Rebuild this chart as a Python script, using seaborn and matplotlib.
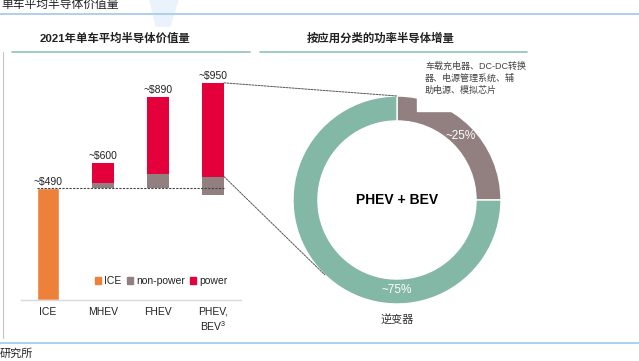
"""
Semiconductor content per vehicle (waterfall) + power semiconductor split (donut)
"""
import numpy as np
import pandas as pd
import matplotlib.pyplot as plt
import seaborn as sns
from matplotlib.patches import Patch, Rectangle, ConnectionPatch, Polygon

# bar data ($ per vehicle, 2021)
categories = ['ICE', 'MHEV', 'FHEV', 'PHEV,\nBEV$^3$']
ice_value = [490, 0, 0, 0]
nonpower_bottom = [0, 490, 490, 460]
nonpower_value = [0, 20, 60, 80]
power_value = [0, 90, 340, 410]
total_labels = ['~$490', '~$600', '~$890', '~$950']

# donut data (PHEV + BEV power semiconductor increment)
donut_labels = ['其他', '逆变器']
donut_share = [25, 75]
donut_pct = ['~25%', '~75%']

ORANGE = '#EE8139'
GREY = '#927F80'
RED = '#E4003A'
GREEN = '#84B8A6'
TXT = '#222222'

sns.set_theme(style='white')
plt.rcParams['font.family'] = ['Liberation Sans', 'Noto Sans CJK SC']
plt.rcParams['mathtext.fontset'] = 'custom'
plt.rcParams['mathtext.rm'] = 'Liberation Sans'
plt.rcParams['mathtext.default'] = 'regular'

W, H = 639, 361
fig = plt.figure(figsize=(W / 100, H / 100), dpi=100)


def px_axes(x0, y0, x1, y1):
    # axes placed by pixel box (top-left origin)
    return fig.add_axes([x0 / W, 1 - y1 / H, (x1 - x0) / W, (y1 - y0) / H])


# ---- waterfall bars ----
ax = px_axes(20.5, 60, 240.5, 300)
df = pd.DataFrame({'cat': categories, 'ice': ice_value})
sns.barplot(data=df, x='cat', y='ice', color=ORANGE, saturation=1,
            width=0.4, ax=ax)
pos = np.arange(len(categories))
ax.bar(pos, nonpower_value, bottom=nonpower_bottom, width=0.4,
       color=GREY, linewidth=0)
np_top = np.add(nonpower_bottom, nonpower_value)
ax.bar(pos, power_value, bottom=np_top, width=0.4, color=RED, linewidth=0)
totals = np.maximum(ice_value, np_top + np.array(power_value))

for p, t, lbl in zip(pos, totals, total_labels):
    ax.annotate(lbl, (p, t), xytext=(0, 1), textcoords='offset points',
                ha='center', va='bottom', fontsize=7.5, color=TXT)

ax.plot([pos[0] - 0.2, pos[-1] + 0.2], [ice_value[0], ice_value[0]],
        ls=(0, (2, 1.2)), color='#444444', lw=0.8, zorder=5)

ax.set_xlim(-0.5, 3.5)
ax.set_ylim(0, 1050)
ax.set_xlabel('')
ax.set_ylabel('')
ax.set_yticks([])
for s in ['top', 'left', 'right']:
    ax.spines[s].set_visible(False)
ax.spines['bottom'].set_color('#D9D9D9')
ax.spines['bottom'].set_linewidth(1)
ax.tick_params(axis='x', length=0, pad=5, labelsize=7.5, colors=TXT)
ax.patch.set_alpha(0)

handles = [Patch(color=ORANGE, label='ICE'),
           Patch(color=GREY, label='non-power'),
           Patch(color=RED, label='power')]
ax.legend(handles=handles, loc='center', bbox_to_anchor=(0.64, 0.079),
          ncol=3, frameon=False, fontsize=7.5, handlelength=0.6,
          handleheight=0.6, handletextpad=0.3, columnspacing=0.5,
          borderpad=0, labelcolor=TXT)

# ---- donut ----
dax = px_axes(293, 96, 501, 304)
dax.pie(donut_share, colors=[GREY, GREEN], startangle=90, counterclock=False,
        radius=1, wedgeprops=dict(width=0.24, edgecolor='white', linewidth=1))
dax.set_xlim(-1, 1)
dax.set_ylim(-1, 1)
dax.set_aspect('equal')

for ang, lbl in zip([45, -90], donut_pct):
    a = np.deg2rad(ang)
    dax.text(0.87 * np.cos(a), 0.87 * np.sin(a), lbl, ha='center',
             va='center', fontsize=8.5, color='white')
dax.text(0, 0, 'PHEV + BEV', ha='center', va='center', fontsize=10,
         fontweight='bold', color='black')
dax.text(0, -1.15, donut_labels[1], ha='center', va='center', fontsize=8,
         color='#333333')

# dashed connectors from PHEV bar to donut
a2 = np.deg2rad(226)
for xyA, xyB in [((3.2, totals[-1]), (0, 1)),
                 ((3.2, np_top[-1]), (np.cos(a2), np.sin(a2)))]:
    con = ConnectionPatch(xyA=xyA, coordsA=ax.transData, xyB=xyB,
                          coordsB=dax.transData, ls=(0, (2, 1.2)),
                          color='#555555', lw=0.7)
    fig.add_artist(con)

# ---- page decorations ----
oax = fig.add_axes([0, 0, 1, 1])
oax.set_xlim(0, W)
oax.set_ylim(H, 0)
oax.axis('off')
oax.patch.set_alpha(0)

oax.add_patch(Polygon([(150, 0), (178, 0), (170, 26), (156, 26)],
                      closed=True, color='#EAF2FB', zorder=0))
oax.plot([0, W], [14, 14], color='#A9CCEB', lw=1.3)
oax.plot([0, W], [343, 343], color='#A9CCEB', lw=1.3)
oax.plot([2.5, 2.5], [52, 338], color='#C4C4C4', lw=0.8)
oax.text(1, 11, '单车平均半导体价值量', ha='left', va='bottom',
         fontsize=8.5, color=TXT, style='italic')
oax.text(0, 354, '研究所', ha='left', va='center', fontsize=8, color=TXT)

oax.text(115, 38, '2021年单车平均半导体价值量', ha='center', va='center',
         fontsize=8.2, fontweight='bold', color=TXT)
oax.text(381, 38, '按应用分类的功率半导体增量', ha='center', va='center',
         fontsize=8.2, fontweight='bold', color=TXT)
oax.plot([12, 250], [52, 52], color='#8FC4AE', lw=1.2)
oax.plot([260, 527], [52, 52], color='#8FC4AE', lw=1.2)

oax.add_patch(Rectangle((417, 56), 112, 55, color='white', zorder=2))
oax.text(425, 62, '车载充电器、DC-DC转换\n器、电源管理系统、辅\n助电源、模拟芯片',
         ha='left', va='top', fontsize=6.5, color='#444444',
         linespacing=1.35, zorder=3)

plt.savefig('out.png', dpi=100)
print("saved out.png")
